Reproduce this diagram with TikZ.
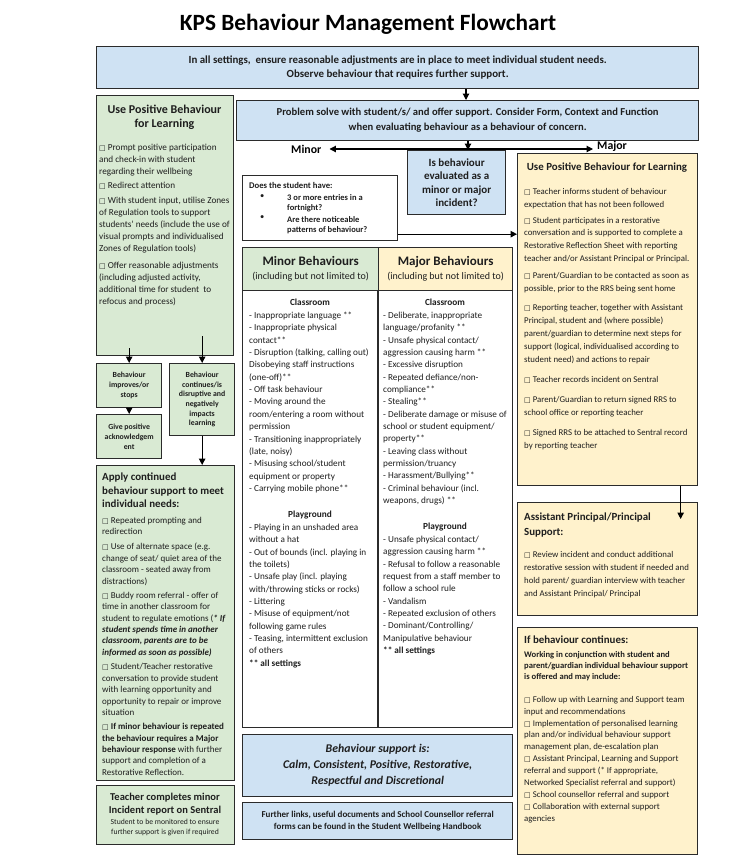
\documentclass[tikz,border=0pt]{standalone}
\usepackage{fontspec}
\setmainfont{Carlito}
\newfontfamily\symf{DejaVu Sans}
\usetikzlibrary{arrows.meta}
\definecolor{gfill}{HTML}{D9EAD3}
\definecolor{yfill}{HTML}{FFF2CC}
\definecolor{bfill}{HTML}{CFE2F3}
\definecolor{edge}{HTML}{2B2B2B}
\definecolor{ink}{HTML}{1E1E1E}
\newcommand{\fs}[2]{\fontsize{#1}{#2}\selectfont}
\newcommand{\cb}{{\symf\fontsize{7}{6}\selectfont □}\ }
\begin{document}
\begin{tikzpicture}[x=1pt,y=-1pt,
  bx/.style={draw=edge,line width=1.3pt,inner sep=0pt,anchor=north west,align=center,text=ink},
  tl/.style={inner sep=0pt,anchor=north west,align=left,text=ink},
  tc/.style={inner sep=0pt,anchor=north,align=center,text=ink},
  arr/.style={-{Triangle[length=6.5pt,width=6.5pt]},line width=1.1pt,black}]

\fill[white] (0,0) rectangle (750,865);
\useasboundingbox (0,0) rectangle (750,865);

% title
\node[font=\fs{23.3}{27}\bfseries] (title) at (368,24) {KPS Behaviour Management Flowchart};

% top boxes
\node[bx,fill=bfill,minimum width=602pt,minimum height=42pt,font=\fs{10.9}{14}\bfseries] (top) at (96,46)
 {In all settings,\ \ ensure reasonable adjustments are in place to meet individual student needs.\\Observe behaviour that requires further support.};
\node[bx,fill=bfill,minimum width=462pt,minimum height=40pt,font=\fs{10.6}{15}\bfseries] (prob) at (236,100)
 {Problem solve with student/s/ and offer support. Consider Form, Context and Function\\when evaluating behaviour as a behaviour of concern.};
\node[bx,fill=bfill,minimum width=98pt,minimum height=64pt,font=\fs{11}{13.5}\bfseries] (isb) at (407,150)
 {Is behaviour\\evaluated as a\\minor or major\\incident?};

\coordinate (jn) at (468,149);
\coordinate (jt) at (466,0);
\node[font=\fs{11.8}{13}\bfseries,inner sep=0pt,anchor=west] (minor) at (291,149) {Minor};
\node[font=\fs{11.8}{13}\bfseries,inner sep=0pt,anchor=west] (major) at (597,146.5) {Major};
\draw[arr] (top.south -| jt) -- (prob.north -| jt);
\draw[arr] (prob.south -| jn) -- (isb.north -| jn);
\draw[arr] (jn) -- ([xshift=8pt]minor.east);
\draw[arr] (jn) -- ([xshift=-4pt]jn -| major.west);

% does the student have
\node[bx,fill=white,minimum width=155pt,minimum height=65pt] (does) at (242,175) {};
\node[tl,font=\fs{8.7}{10}\bfseries] (doest) at (249,181.9) {Does the student have:};
\node[tl,font=\fs{8.5}{10.5}\bfseries] (dl) at (287,194) {3 or more entries in a\\fortnight?\\[1pt]Are there noticeable\\patterns of behaviour?};
\node[tl,font=\fs{8.5}{10}] (db1) at (260,194) {\textbullet};
\node[tl,font=\fs{8.5}{10}] (db2) at (260,215.5) {\textbullet};

% right column
\node[bx,fill=yfill,minimum width=180pt,minimum height=332pt] (rpbl) at (517,153) {};
\node[tc,font=\fs{10.9}{12}\bfseries] (rpblh) at (607,162.9) {Use Positive Behaviour for Learning};
\node[tl,font=\fs{8.8}{12.8}] (rpblb) at (524,187.9) {\cb Teacher informs student of behaviour\\
expectation that has not been followed\\[3.2pt]
\cb Student participates in a restorative\\
conversation and is supported to complete a\\
Restorative Reflection Sheet with reporting\\
teacher and/or Assistant Principal or Principal.\\[4pt]
\cb Parent/Guardian to be contacted as soon as\\
possible, prior to the RRS being sent home\\[7pt]
\cb Reporting teacher, together with Assistant\\
Principal, student and (where possible)\\
parent/guardian to determine next steps for\\
support (logical, individualised according to\\
student need) and actions to repair\\[8pt]
\cb Teacher records incident on Sentral\\[7pt]
\cb Parent/Guardian to return signed RRS to\\
school office or reporting teacher\\[7pt]
\cb Signed RRS to be attached to Sentral record\\
by reporting teacher};

\coordinate (d1) at ([yshift=-26pt]does.east);
\draw[arr] (d1) -- (d1 -| rpbl.west);

\node[bx,fill=yfill,minimum width=180pt,minimum height=113pt] (ap) at (517,502) {};
\node[tl,font=\fs{10.9}{15}\bfseries] (aph) at (524,512.9) {Assistant Principal/Principal\\Support:};
\node[tl,font=\fs{8.8}{13.2}] (apb) at (524,550.9) {\cb Review incident and conduct additional\\restorative session with student if needed and\\hold parent/ guardian interview with teacher\\and Assistant Principal/ Principal};
\draw[arr] ([xshift=73pt]rpbl.south) -- ([xshift=73pt,yshift=-17pt]ap.north);

\node[bx,fill=yfill,minimum width=180pt,minimum height=227pt] (ifc) at (517,627) {};
\node[tl,font=\fs{10.9}{12}\bfseries] (ifch) at (524,635.9) {If behaviour continues:};
\node[tl,font=\fs{8.6}{11.2}\bfseries] (ifcw) at (524,650.9) {Working in conjunction with student and\\parent/guardian individual behaviour support\\is offered and may include:};
\node[tl,font=\fs{8.8}{11.9}] (ifcb) at (524,695.9) {\cb Follow up with Learning and Support team\\
input and recommendations\\
\cb Implementation of personalised learning\\
plan and/or individual behaviour support\\
management plan, de-escalation plan\\
\cb Assistant Principal, Learning and Support\\
referral and support (* If appropriate,\\
Networked Specialist referral and support)\\
\cb School counsellor referral and support\\
\cb Collaboration with external support\\
agencies};

% left column
\node[bx,fill=gfill,minimum width=137pt,minimum height=260pt] (lp1) at (96,95) {};
\node[tc,font=\fs{12}{14}\bfseries] (lp1h) at (164.5,104.4) {Use Positive Behaviour\\for Learning};
\node[tl,font=\fs{9.2}{12.2}] (lp1b) at (99,143.7) {\cb Prompt positive participation\\
and check-in with student\\
regarding their wellbeing\\[2pt]
\cb Redirect attention\\[2pt]
\cb With student input, utilise Zones\\
of Regulation tools to support\\
students’ needs (include the use of\\
visual prompts and individualised\\
Zones of Regulation tools)\\[4pt]
\cb Offer reasonable adjustments\\
(including adjusted activity,\\
additional time for student\ \ to\\
refocus and process)};

\node[bx,fill=gfill,minimum width=65pt,minimum height=44pt,font=\fs{7.8}{10}\bfseries] (imp) at (96,363) {Behaviour\\improves/or\\stops};
\node[bx,fill=gfill,minimum width=65pt,minimum height=44pt,font=\fs{7.8}{9.7}\bfseries] (give) at (96,414) {Give positive\\acknowledgem\\ent};
\node[bx,fill=gfill,minimum width=65pt,minimum height=72pt,font=\fs{7.8}{9.7}\bfseries] (cont) at (169,363) {Behaviour\\continues/is\\disruptive and\\negatively\\impacts\\learning};

\node[bx,fill=gfill,minimum width=138pt,minimum height=315pt] (apply) at (96,465) {};
\node[tl,font=\fs{10.9}{13.5}\bfseries] (applyh) at (102,472.9) {Apply continued\\behaviour support to meet\\individual needs:};
\node[tl,font=\fs{9}{11.35}] (applyb) at (102,516.8) {\cb Repeated prompting and\\
redirection\\[4pt]
\cb Use of alternate space (e.g.\\
change of seat/ quiet area of the\\
classroom - seated away from\\
distractions)\\[3pt]
\cb Buddy room referral - offer of\\
time in another classroom for\\
student to regulate emotions (\textbf{\textit{* If}}\\
\textbf{\textit{student spends time in another}}\\
\textbf{\textit{classroom, parents are to be}}\\
\textbf{\textit{informed as soon as possible)}}\\[3.5pt]
\cb Student/Teacher restorative\\
conversation to provide student\\
with learning opportunity and\\
opportunity to repair or improve\\
situation\\[3pt]
\textbf{\cb If minor behaviour is repeated}\\
\textbf{the behaviour requires a Major}\\
\textbf{behaviour response} with further\\
support and completion of a\\
Restorative Reflection.};

\node[bx,fill=gfill,minimum width=138pt,minimum height=59pt] (tch) at (96,785) {};
\node[tc,font=\fs{10.5}{13}\bfseries] (tchh) at (165,793) {Teacher completes minor\\Incident report on Sentral};
\node[tc,font=\fs{7.7}{9.5}] (tchb) at (165,819.4) {Student to be monitored to ensure\\further support is given if required};

\draw[arr] ([xshift=-36pt,yshift=8pt]lp1.south) -- (imp.north);
\draw[arr] ([xshift=37pt,yshift=20pt]lp1.south) -- (cont.north);
\draw[arr] (imp.south) -- (give.north);
\draw[arr] (cont.south) -- (cont.south |- apply.north);

% behaviours table
\node[bx,fill=white,minimum width=270pt,minimum height=437pt] (tbl) at (242,290) {};
\node[bx,fill=gfill,minimum width=136pt,minimum height=43pt,font=\fs{10}{14}] (minh) at (242,247) {{\fs{13}{14}\bfseries Minor Behaviours}\\(including but not limited to)};
\node[bx,fill=yfill,minimum width=134pt,minimum height=43pt,font=\fs{10}{14}] (majh) at (378,247) {{\fs{13}{14}\bfseries Major Behaviours}\\(including but not limited to)};
\draw[line width=1.3pt,edge] (majh.south west) -- (tbl.south -| majh.south west);

\node[tc,font=\fs{9.3}{12}\bfseries] (minc) at (310,298.6) {Classroom};
\node[tl,font=\fs{9.2}{12.36}] (minci) at (249,311.7) {- Inappropriate language **\\
- Inappropriate physical\\
contact**\\
- Disruption (talking, calling out)\\
Disobeying staff instructions\\
(one-off)**\\
- Off task behaviour\\
- Moving around the\\
room/entering a room without\\
permission\\
- Transitioning inappropriately\\
(late, noisy)\\
- Misusing school/student\\
equipment or property\\
- Carrying mobile phone**};
\node[tc,font=\fs{9.3}{12}\bfseries] (minp) at (310,510.6) {Playground};
\node[tl,font=\fs{9.2}{12.36}] (minpi) at (249,523.7) {- Playing in an unshaded area\\
without a hat\\
- Out of bounds (incl. playing in\\
the toilets)\\
- Unsafe play (incl. playing\\
with/throwing sticks or rocks)\\
- Littering\\
- Misuse of equipment/not\\
following game rules\\
- Teasing, intermittent exclusion\\
of others\\
\textbf{** all settings}};

\node[tc,font=\fs{9.3}{12}\bfseries] (majc) at (445,298.6) {Classroom};
\node[tl,font=\fs{9.2}{12.36}] (majci) at (383,311.7) {- Deliberate, inappropriate\\
language/profanity **\\
- Unsafe physical contact/\\
aggression causing harm **\\
- Excessive disruption\\
- Repeated defiance/non-\\
compliance**\\
- Stealing**\\
- Deliberate damage or misuse of\\
school or student equipment/\\
property**\\
- Leaving class without\\
permission/truancy\\
- Harassment/Bullying**\\
- Criminal behaviour (incl.\\
weapons, drugs) **};
\node[tc,font=\fs{9.3}{12}\bfseries] (majp) at (445,522.6) {Playground};
\node[tl,font=\fs{9.2}{12.36}] (majpi) at (383,535.7) {- Unsafe physical contact/\\
aggression causing harm **\\
- Refusal to follow a reasonable\\
request from a staff member to\\
follow a school rule\\
- Vandalism\\
- Repeated exclusion of others\\
- Dominant/Controlling/\\
Manipulative behaviour\\
\textbf{** all settings}};

% bottom centre
\node[bx,fill=bfill,minimum width=270pt,minimum height=62pt,font=\fs{11.8}{16}\bfseries\itshape] (sup) at (242,734)
 {Behaviour support is:\\Calm, Consistent, Positive, Restorative,\\Respectful and Discretional};
\node[bx,fill=bfill,minimum width=270pt,minimum height=37pt,font=\fs{9}{12}\bfseries] (fur) at (242,802)
 {Further links, useful documents and School Counsellor referral\\forms can be found in the Student Wellbeing Handbook};
\end{tikzpicture}
\end{document}
